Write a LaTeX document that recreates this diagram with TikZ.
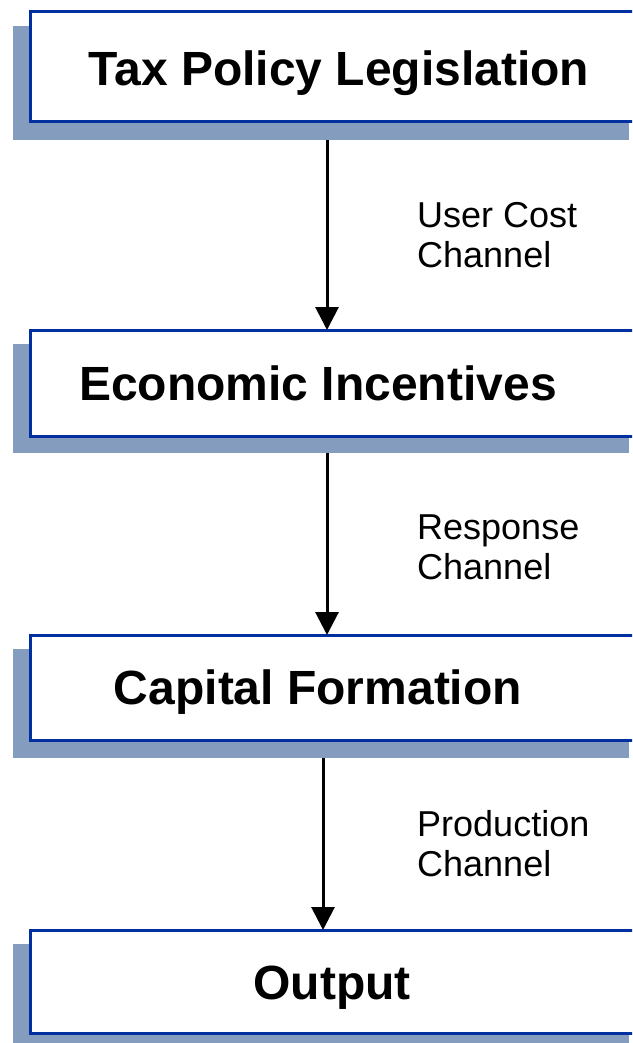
\documentclass[tikz,border=0pt]{standalone}
\usepackage{fontspec}
\setmainfont{Liberation Sans}
\usetikzlibrary{arrows.meta}
\definecolor{boxblue}{RGB}{0,48,160}
\definecolor{shadowblue}{RGB}{132,157,191}
\tikzset{
  boxnode/.style={draw=boxblue, line width=3pt, fill=white, rectangle, anchor=north west,
    minimum width=616pt, inner sep=0pt, outer sep=0pt},
  shadownode/.style={fill=shadowblue, draw=none, rectangle, anchor=north west,
    minimum width=616pt, inner sep=0pt, outer sep=0pt},
  titletext/.style={font=\fontsize{48}{53}\selectfont\bfseries, inner sep=0pt, anchor=base},
  chantext/.style={font=\fontsize{36}{40}\selectfont, inner sep=0pt, anchor=base west, align=left},
  flow/.style={line width=3pt, -{Triangle[width=23pt,length=23pt]}}
}
\begin{document}
\begin{tikzpicture}[x=1pt,y=-1pt]
\useasboundingbox (0,0) rectangle (632,1043);
\clip (0,0) rectangle (632,1043);
% shadows
\node[shadownode, minimum height=114pt] (s1) at (13,26) {};
\node[shadownode, minimum height=109pt] (s2) at (13,344) {};
\node[shadownode, minimum height=109pt] (s3) at (13,649) {};
\node[shadownode, minimum height=107pt] (s4) at (13,944) {};
% boxes
\node[boxnode, minimum height=110pt] (b1) at (30,12) {};
\node[boxnode, minimum height=106pt] (b2) at (30,330) {};
\node[boxnode, minimum height=105pt] (b3) at (30,635) {};
\node[boxnode, minimum height=103pt] (b4) at (30,930) {};
% titles
\node[titletext] (t1) at (339,86) {Tax Policy Legislation};
\node[titletext] (t2) at (318,400) {Economic Incentives};
\node[titletext] (t3) at (318,704) {Capital Formation};
\node[titletext] (t4) at (332,999) {Output};
% arrows
\coordinate (x1) at (327,0);
\coordinate (x2) at (327,0);
\coordinate (x3) at (323,0);
\draw[flow] (s1.south -| x1) -- (b2.north -| x1);
\draw[flow] (s2.south -| x2) -- (b3.north -| x2);
\draw[flow] (s3.south -| x3) -- (b4.north -| x3);
% channel labels (base anchor = last line's baseline)
\node[chantext] (c1) at (417,267) {User Cost\\Channel};
\node[chantext] (c2) at (417,579) {Response\\Channel};
\node[chantext] (c3) at (417,876) {Production\\Channel};
\end{tikzpicture}
\end{document}
